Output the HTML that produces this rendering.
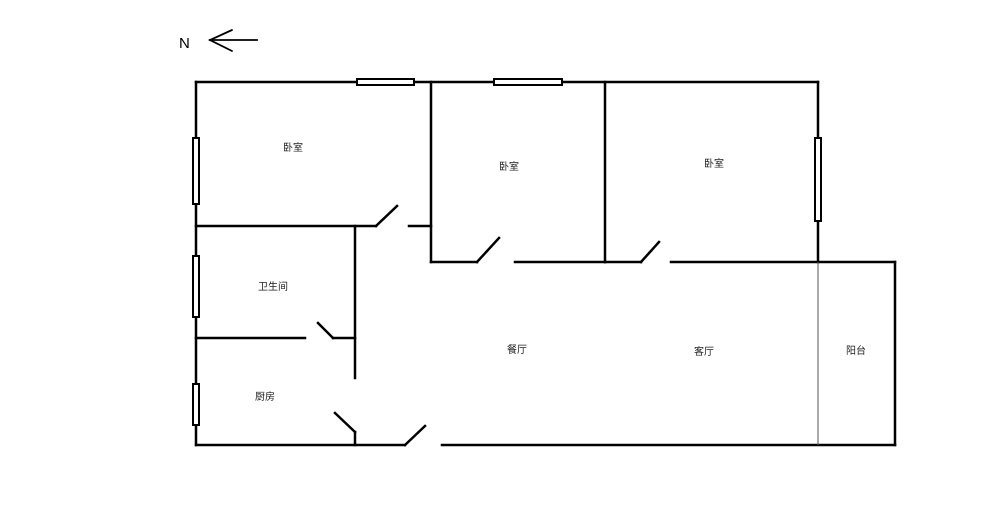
<!DOCTYPE html>
<html><head><meta charset="utf-8"><style>
html,body{margin:0;padding:0;background:#fff;}
svg{display:block;}
text{font-family:"Liberation Sans","Noto Sans CJK SC",sans-serif;font-size:10px;fill:#222;}
</style></head><body>
<svg width="1000" height="509" viewBox="0 0 1000 509" xmlns="http://www.w3.org/2000/svg">
<g stroke="#000" stroke-width="2.5" fill="none" stroke-linecap="square">
<!-- outer walls -->
<line x1="196" y1="82" x2="818" y2="82"/>
<line x1="196" y1="82" x2="196" y2="445"/>
<line x1="196" y1="445" x2="405" y2="445"/>
<line x1="405" y1="445" x2="425" y2="426"/>
<line x1="442" y1="445" x2="895" y2="445"/>
<line x1="895" y1="262" x2="895" y2="445"/>
<line x1="818" y1="82" x2="818" y2="262"/>
<!-- bedroom1 -->
<line x1="196" y1="226" x2="376" y2="226"/>
<line x1="376" y1="226" x2="397" y2="206"/>
<line x1="409" y1="226" x2="431" y2="226"/>
<line x1="431" y1="82" x2="431" y2="262"/>
<!-- bath/kitchen -->
<line x1="196" y1="338" x2="305" y2="338"/>
<line x1="318" y1="323" x2="333" y2="338"/>
<line x1="333" y1="338" x2="355" y2="338"/>
<line x1="355" y1="226" x2="355" y2="378"/>
<line x1="335" y1="413" x2="355" y2="432"/>
<line x1="355" y1="432" x2="355" y2="445"/>
<!-- bedroom2/3 -->
<line x1="431" y1="262" x2="477" y2="262"/>
<line x1="477" y1="262" x2="499" y2="238"/>
<line x1="515" y1="262" x2="605" y2="262"/>
<line x1="605" y1="82" x2="605" y2="262"/>
<line x1="605" y1="262" x2="641" y2="262"/>
<line x1="641" y1="262" x2="659" y2="242"/>
<line x1="671" y1="262" x2="895" y2="262"/>
<!-- N arrow -->
<line x1="210" y1="40" x2="257" y2="40" stroke-width="1.8"/>
<polyline points="232,30 210,40 232,51" stroke-width="1.8" stroke-linecap="round"/>
</g>
<line x1="818" y1="262" x2="818" y2="445" stroke="#555" stroke-width="1"/>
<!-- windows -->
<g stroke="#000" stroke-width="2" fill="#fff">
<rect x="357" y="79" width="57" height="6"/>
<rect x="494" y="79" width="68" height="6"/>
<rect x="193" y="138" width="6" height="66"/>
<rect x="193" y="256" width="6" height="61"/>
<rect x="193" y="384" width="6" height="41"/>
<rect x="815" y="138" width="6" height="83"/>
</g>
<text x="179" y="48" style="font-size:15px;fill:#000">N</text>
<text x="283" y="151">卧室</text>
<text x="499" y="170">卧室</text>
<text x="704" y="167">卧室</text>
<text x="258" y="290">卫生间</text>
<text x="255" y="400">厨房</text>
<text x="507" y="353">餐厅</text>
<text x="694" y="355">客厅</text>
<text x="846" y="354">阳台</text>
</svg>
</body></html>
